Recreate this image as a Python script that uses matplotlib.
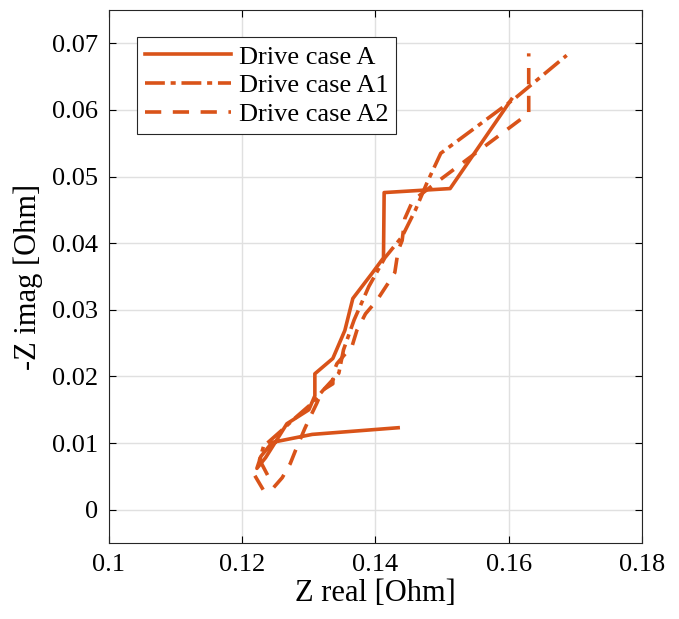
import matplotlib
matplotlib.use("Agg")
import matplotlib.pyplot as plt

# Drive case A (solid)
a_re = [0.1434, 0.1305, 0.1245, 0.1228, 0.1222, 0.1235, 0.1252, 0.1267, 0.1300,
        0.1309, 0.1309, 0.1336, 0.1354, 0.1366, 0.1395, 0.1412, 0.1413, 0.1512, 0.1604]
a_im = [0.0123, 0.0113, 0.0101, 0.0080, 0.0062, 0.0078, 0.0105, 0.0129, 0.0150,
        0.0171, 0.0204, 0.0227, 0.0269, 0.0317, 0.0355, 0.0378, 0.0476, 0.0482, 0.0616]

# Drive case A1 (dash-dot)
a1_re = [0.1238, 0.1226, 0.1232, 0.1258, 0.1282, 0.1305, 0.1322, 0.1345, 0.1352,
         0.1368, 0.1390, 0.1414, 0.1440, 0.1460, 0.1477, 0.1498, 0.1610, 0.1687]
a1_im = [0.0052, 0.0075, 0.0095, 0.0118, 0.0140, 0.0160, 0.0180, 0.0205, 0.0240,
         0.0285, 0.0335, 0.0378, 0.0410, 0.0450, 0.0490, 0.0535, 0.0618, 0.0682]

# Drive case A2 (dashed)
a2_re = [0.1219, 0.1232, 0.1246, 0.1260, 0.1272, 0.1280, 0.1294, 0.1300, 0.1312,
         0.1320, 0.1336, 0.1336, 0.1342, 0.1365, 0.1372, 0.1385, 0.1402, 0.1419,
         0.1429, 0.1434, 0.1440, 0.1444, 0.1456, 0.1490, 0.1630, 0.1630]
a2_im = [0.0051, 0.0029, 0.0032, 0.0048, 0.0069, 0.0089, 0.0122, 0.0135, 0.0160,
         0.0179, 0.0189, 0.0204, 0.0219, 0.0246, 0.0269, 0.0294, 0.0314, 0.0340,
         0.0356, 0.0389, 0.0404, 0.0437, 0.0464, 0.0490, 0.0595, 0.0685]

x_ticks = [0.1, 0.12, 0.14, 0.16, 0.18]
y_ticks = [0, 0.01, 0.02, 0.03, 0.04, 0.05, 0.06, 0.07]

color = "#D95319"
plt.rcParams["font.family"] = ["Liberation Serif", "DejaVu Serif"]

fig = plt.figure(figsize=(6.79, 6.19), dpi=100)
ax = fig.add_axes([0.1605, 0.1228, 0.785, 0.861])

lw = 2.6
ax.plot(a_re, a_im, "-", color=color, lw=lw, label="Drive case A")
ax.plot(a1_re, a1_im, color=color, lw=lw, dashes=[5.5, 1.6, 1.4, 1.6], label="Drive case A1")
ax.plot(a2_re, a2_im, color=color, lw=lw, dashes=[4.5, 3.2], label="Drive case A2")

ax.set_xlim(0.1, 0.18)
ax.set_ylim(-0.005, 0.075)
ax.set_xticks(x_ticks)
ax.set_xticklabels(["0.1", "0.12", "0.14", "0.16", "0.18"])
ax.set_yticks(y_ticks)
ax.set_yticklabels(["0", "0.01", "0.02", "0.03", "0.04", "0.05", "0.06", "0.07"])
ax.tick_params(direction="in", top=True, right=True, labelsize=19, length=5, width=0.8, pad=8)
ax.grid(True, color="#e0e0e0", lw=1.0)
ax.set_axisbelow(True)
for s in ax.spines.values():
    s.set_color("#262626")
    s.set_linewidth(0.8)

ax.set_xlabel("Z real [Ohm]", fontsize=22, labelpad=2)
ax.set_ylabel("-Z imag [Ohm]", fontsize=22, labelpad=6)

leg = ax.legend(loc="upper left", bbox_to_anchor=(0.0525, 0.949), fontsize=19,
                handlelength=3.25, handletextpad=0.3, labelspacing=0.2,
                borderpad=0.3, fancybox=False, framealpha=1, edgecolor="#262626",
                borderaxespad=0)
leg.get_frame().set_linewidth(0.8)

fig.savefig("out.png", dpi=100)
